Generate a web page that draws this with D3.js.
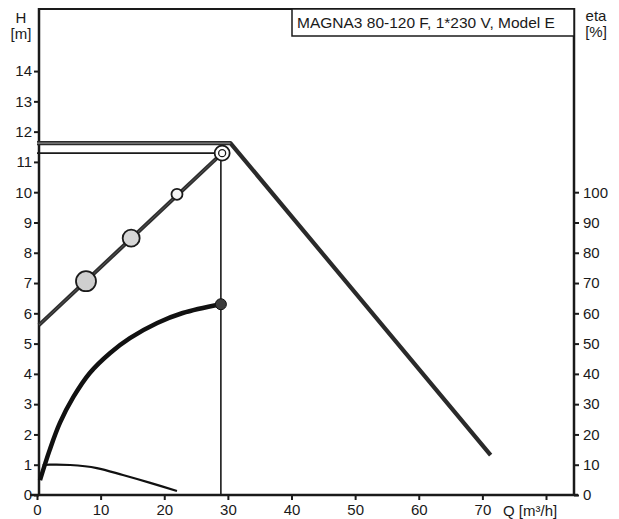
<!DOCTYPE html>
<html>
<head>
<meta charset="utf-8">
<script src="https://cdn.jsdelivr.net/npm/d3@7"></script>
<style>
  body { margin: 0; background: #fff; }
  svg { font-family: "Liberation Sans", Arial, sans-serif; }
</style>
</head>
<body>
<svg id="svg"></svg>
<script>
// flow Q [m3/h], head H [m], efficiency eta [%]
const qTicks = [0, 10, 20, 30, 40, 50, 60, 70, 80];
const qTickLabels = ['0', '10', '20', '30', '40', '50', '60', '70', ''];
const hTicks = [0, 1, 2, 3, 4, 5, 6, 7, 8, 9, 10, 11, 12, 13, 14];
const etaTicks = [0, 10, 20, 30, 40, 50, 60, 70, 80, 90, 100];

// max curve
const qMax = [0, 30.4, 71.3];
const hMax = [11.62, 11.62, 1.32];

// proportional pressure line and its marks
const qProp = [0.3, 29.1];
const hProp = [5.61, 11.29];
const qMarks = [7.7, 14.8, 22.0, 29.1];
const hMarks = [7.06, 8.48, 9.93, 11.29];

// duty point
const qDuty = 28.9;
const hDuty = 11.29;

// efficiency curve
const qEta = [0.47, 2.0, 3.6, 5.7, 8.3, 11.5, 14.6, 18.9, 22.9, 28.9];
const etaVals = [4.9, 14.9, 23.8, 32.3, 40.3, 46.9, 51.8, 56.8, 60.1, 63.0];

// lower thin curve
const qLow = [0.9, 2.0, 5.2, 9.4, 13.5, 17.8, 22.0];
const hLow = [0.99, 1.0, 0.99, 0.89, 0.66, 0.40, 0.13];

const title = 'MAGNA3 80-120 F, 1*230 V, Model E';

const W = 619, H = 519;
const mLeft = 39, mRight = 574, mTop = 9, mBottom = 495;

const svg = d3.select('#svg').attr('width', W).attr('height', H);

const x = d3.scaleLinear().domain([0, 84.4]).range([37, mRight]);
const y = d3.scaleLinear().domain([0, 16.05]).range([mBottom, mTop]);
const yEta = d3.scaleLinear().domain([0, 160.5]).range([mBottom, mTop]);

const ink = '#1a1a1a';

// top frame line
svg.append('line').attr('x1', mLeft).attr('x2', mRight).attr('y1', mTop).attr('y2', mTop)
  .attr('stroke', ink).attr('stroke-width', 2);

const xAxis = d3.axisBottom(x).tickValues(qTicks)
  .tickFormat((d, i) => qTickLabels[i]).tickSize(5).tickSizeOuter(0);
const gx = svg.append('g').attr('transform', `translate(0,${mBottom})`).call(xAxis);
gx.select('.domain').attr('d', `M30,0H${mRight + 4}`);

const yAxis = d3.axisLeft(y).tickValues(hTicks).tickSize(5).tickSizeOuter(0);
const gy = svg.append('g').attr('transform', `translate(${mLeft},0)`).call(yAxis);
gy.select('.domain').attr('d', `M0,${mTop - 1}V${mBottom}`);

const etaAxis = d3.axisRight(yEta).tickValues(etaTicks).tickSize(5).tickSizeOuter(0);
const ge = svg.append('g').attr('transform', `translate(${mRight},0)`).call(etaAxis);
ge.select('.domain').attr('d', `M0,${mTop - 1}V${mBottom}`);

[gx, gy, ge].forEach(g => {
  g.select('.domain').attr('stroke', ink).attr('stroke-width', 2.5);
  g.selectAll('.tick line').attr('stroke', ink).attr('stroke-width', 2);
  g.selectAll('.tick text').attr('fill', ink).attr('font-size', 15)
    .attr('font-family', '"Liberation Sans", Arial, sans-serif');
});
gx.selectAll('.tick text').attr('dy', '0.8em');
gy.selectAll('.tick text').attr('x', -7);
ge.selectAll('.tick text').attr('x', 9);

// axis titles
const label = (tx, ty, txt, anchor) => svg.append('text').attr('x', tx).attr('y', ty)
  .attr('text-anchor', anchor).attr('font-size', 15).attr('fill', ink).text(txt);
label(21, 23, 'H', 'middle');
label(21, 39, '[m]', 'middle');
label(596, 21, 'eta', 'middle');
label(596, 37, '[%]', 'middle');
label(503, 516, 'Q [m³/h]', 'start');

// title box
svg.append('rect').attr('x', 292).attr('y', mTop).attr('width', mRight - 292).attr('height', 27)
  .attr('fill', '#fff').attr('stroke', ink).attr('stroke-width', 1.5);
svg.append('text').attr('x', 297).attr('y', 28).attr('font-size', 15.5).attr('fill', ink).text(title);

const line = d3.line().x(d => x(d[0])).y(d => y(d[1]));

// duty point guide lines
svg.append('path').attr('d', line([[0, hDuty], [qDuty, hDuty], [qDuty, 0]]))
  .attr('fill', 'none').attr('stroke', ink).attr('stroke-width', 1.6);

// max curve
const maxPts = qMax.map((q, i) => [q, hMax[i]]);
svg.append('path').attr('d', line(maxPts)).attr('fill', 'none')
  .attr('stroke', '#2a2a2a').attr('stroke-width', 4.2).attr('stroke-linejoin', 'round');
svg.append('path').attr('d', line(maxPts.slice(0, 2))).attr('fill', 'none')
  .attr('stroke', '#8a8a8a').attr('stroke-width', 1.2);

// proportional line
const propPts = qProp.map((q, i) => [q, hProp[i]]);
svg.append('path').attr('d', line(propPts)).attr('fill', 'none')
  .attr('stroke', '#2e2e2e').attr('stroke-width', 4);
svg.append('path').attr('d', line(propPts)).attr('fill', 'none')
  .attr('stroke', '#555').attr('stroke-width', 1);

// efficiency curve
const smooth = d3.line().x(d => x(d[0])).y(d => d[1]).curve(d3.curveCatmullRom);
svg.append('path').attr('d', smooth(qEta.map((q, i) => [q, yEta(etaVals[i])])))
  .attr('fill', 'none').attr('stroke', '#111').attr('stroke-width', 4.5);

// lower curve
svg.append('path').attr('d', smooth(qLow.map((q, i) => [q, y(hLow[i])])))
  .attr('fill', 'none').attr('stroke', '#111').attr('stroke-width', 2.2);

// marks on proportional line
const markStyle = [
  { r: 10, fill: '#cfcfcf' },
  { r: 8.5, fill: '#d6d6d6' },
  { r: 5.5, fill: '#f4f4f4' },
  { r: 7.5, fill: '#fff' }
];
svg.selectAll('circle.mark').data(qMarks).join('circle').attr('class', 'mark')
  .attr('cx', d => x(d)).attr('cy', (d, i) => y(hMarks[i]))
  .attr('r', (d, i) => markStyle[i].r).attr('fill', (d, i) => markStyle[i].fill)
  .attr('stroke', ink).attr('stroke-width', 1.8);
svg.append('circle').attr('cx', x(qMarks[3])).attr('cy', y(hMarks[3])).attr('r', 3.5)
  .attr('fill', '#fff').attr('stroke', ink).attr('stroke-width', 1.3);

// efficiency end point
svg.append('circle').attr('cx', x(qDuty)).attr('cy', yEta(etaVals[etaVals.length - 1]))
  .attr('r', 5.5).attr('fill', '#3c3c3c').attr('stroke', '#111').attr('stroke-width', 1);
</script>
</body>
</html>
